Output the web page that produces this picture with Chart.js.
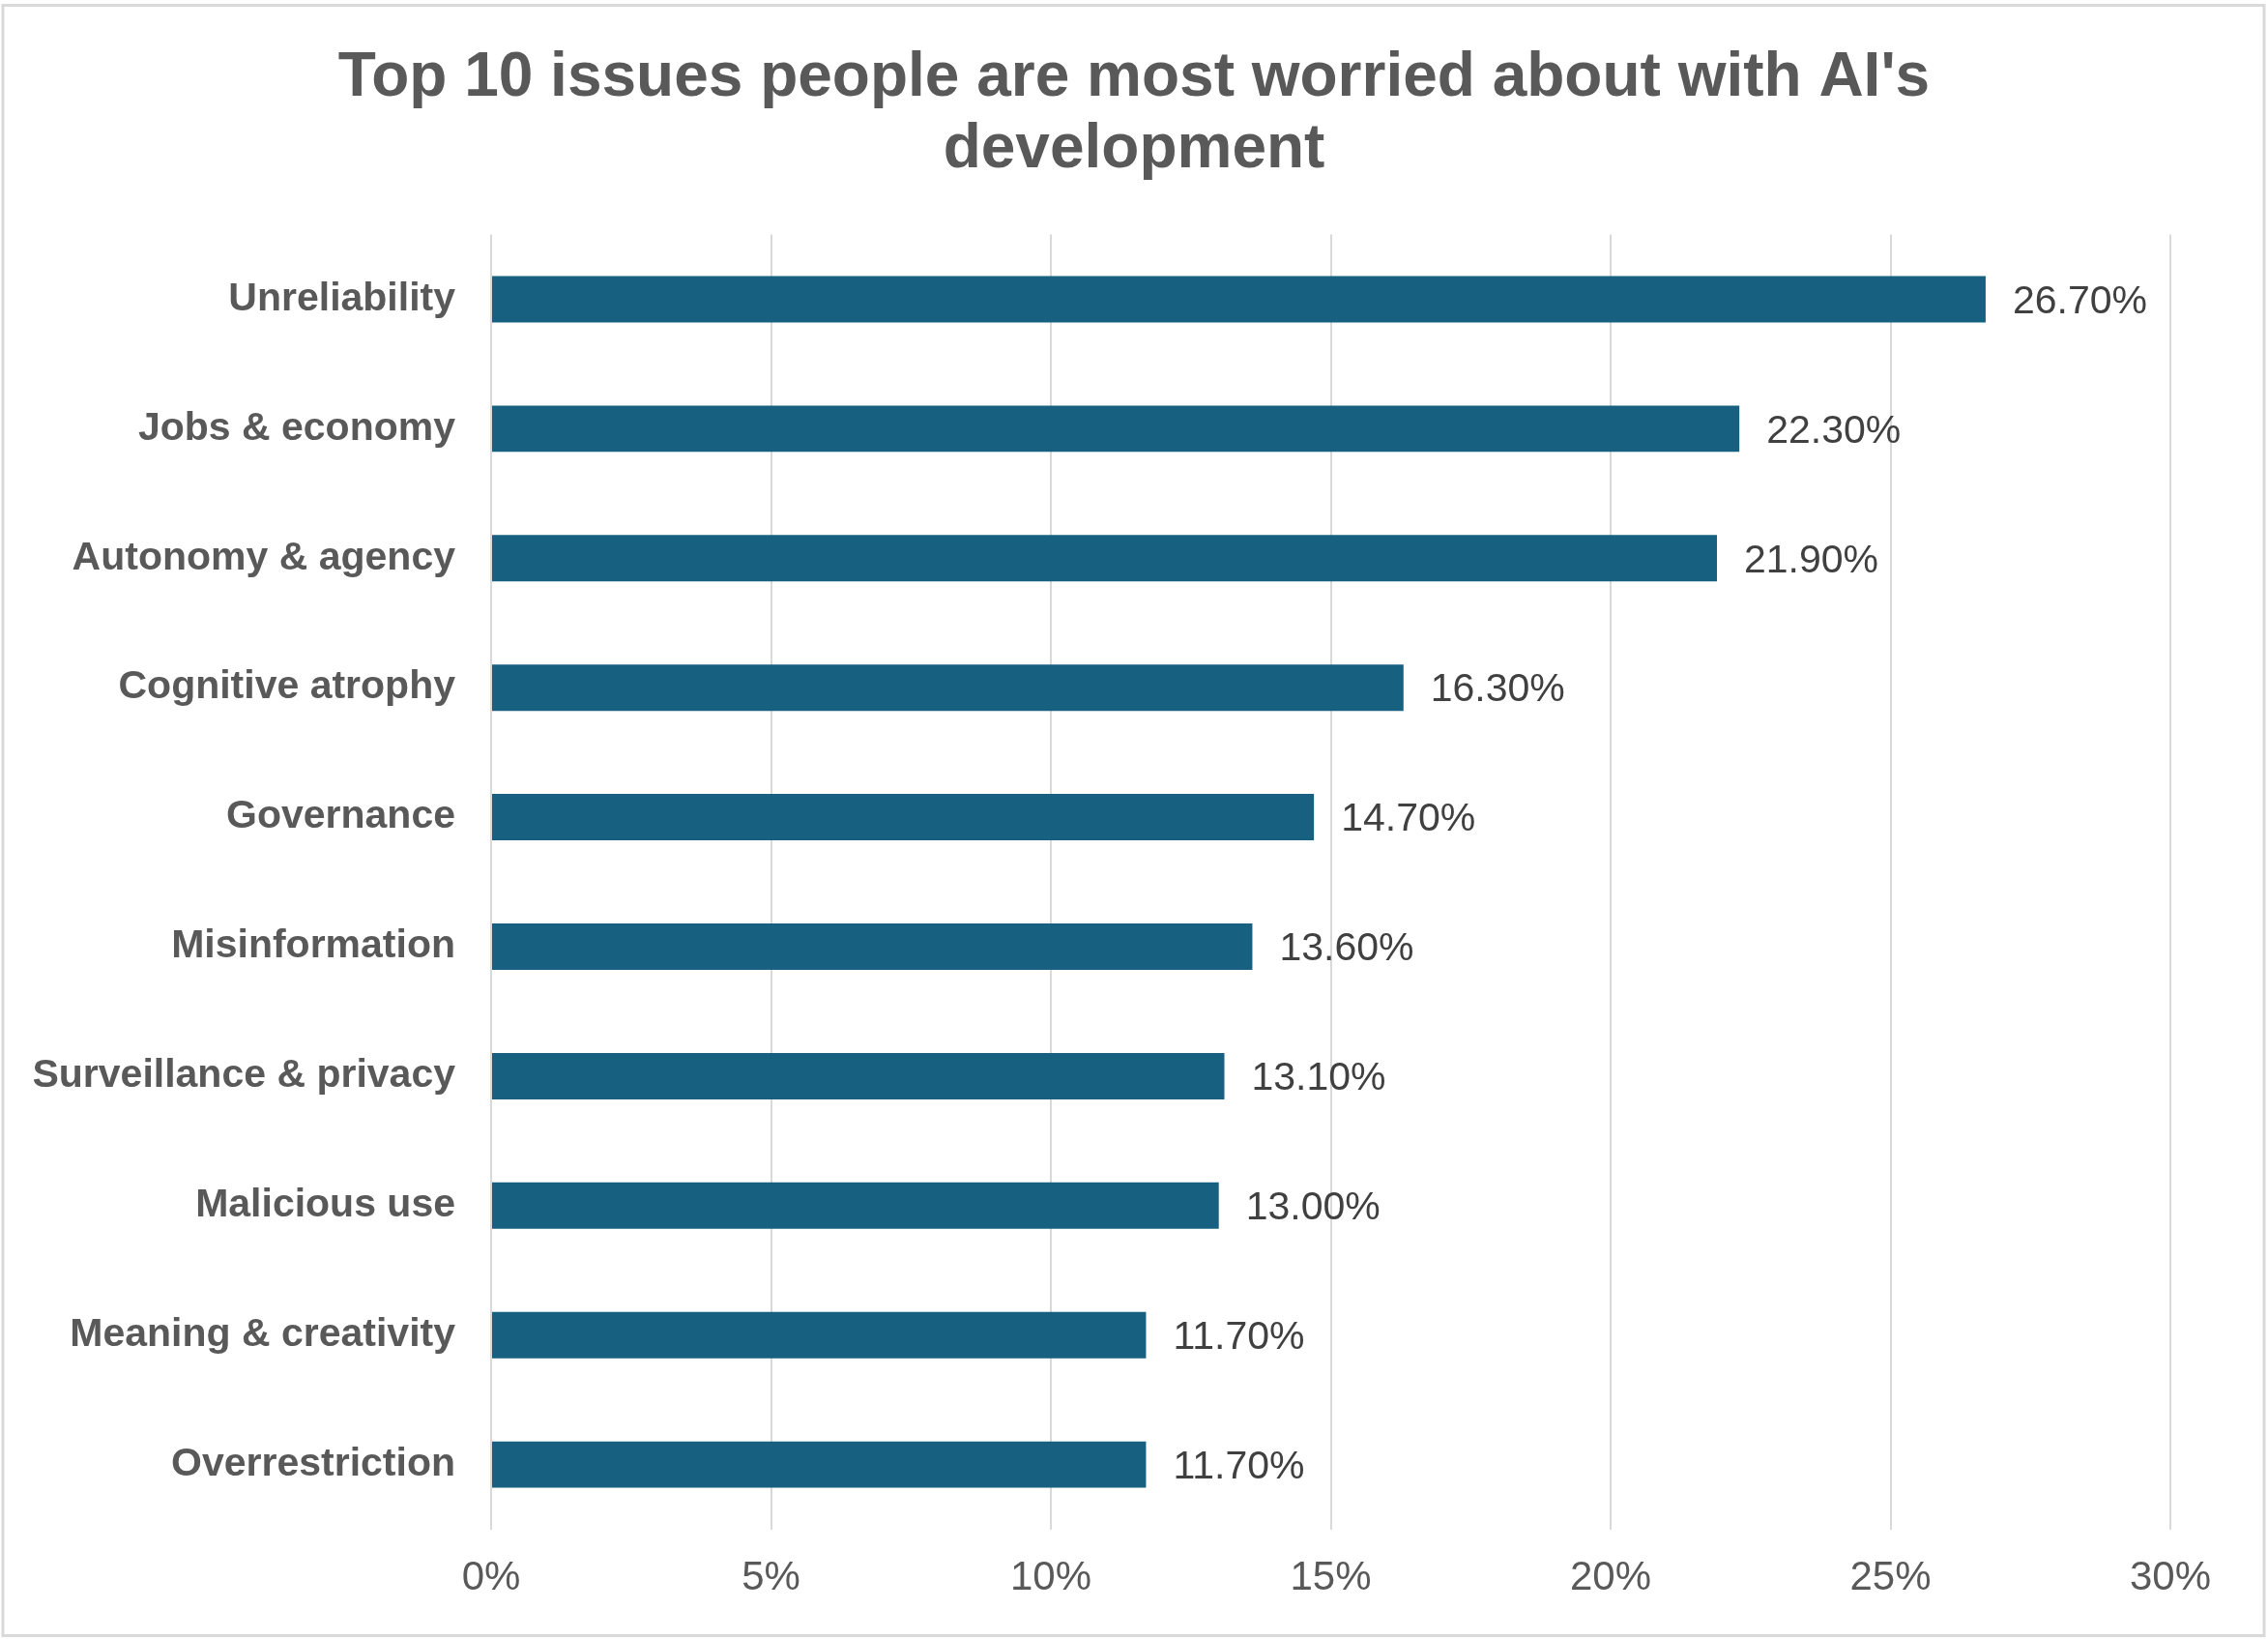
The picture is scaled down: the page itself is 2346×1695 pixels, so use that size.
<!DOCTYPE html>
<html>
<head>
<meta charset="utf-8">
<script src="https://cdn.jsdelivr.net/npm/chart.js@4.4.1/dist/chart.umd.min.js"></script>
<style>
  html, body { margin: 0; padding: 0; background: #fff; }
  #wrap { width: 2346px; height: 1695px; position: relative; }
</style>
</head>
<body>
<div id="wrap"><canvas id="chart" width="2346" height="1695"></canvas></div>
<script>
const TITLE_LINES = ["Top 10 issues people are most worried about with AI's", 'development'];
const categories = [
    'Unreliability',
    'Jobs & economy',
    'Autonomy & agency',
    'Cognitive atrophy',
    'Governance',
    'Misinformation',
    'Surveillance & privacy',
    'Malicious use',
    'Meaning & creativity',
    'Overrestriction'
];
const shares = [26.7, 22.3, 21.9, 16.3, 14.7, 13.6, 13.1, 13.0, 11.7, 11.7];
const tickValues = [0, 5, 10, 15, 20, 25, 30];

const FONT = "'Liberation Sans', Arial, sans-serif";
const BAR_COLOR = '#17607f';
const TEXT_GRAY = '#595959';

// fundo branco + moldura cinza em volta do gráfico
const framePlugin = {
    id: 'frame',
    afterLayout(chart) {
        // centraliza o título na largura toda do canvas, não só na área com padding
        const t = chart.titleBlock;
        if (t) {
            t.left = 0;
            t.right = chart.width;
            t.width = chart.width;
        }
    },
    beforeDraw(chart) {
        const ctx = chart.ctx;
        ctx.save();
        ctx.fillStyle = '#fff';
        ctx.fillRect(0, 0, chart.width, chart.height);
        ctx.strokeStyle = '#d9d9d9';
        ctx.lineWidth = 3;
        ctx.strokeRect(3, 5.5, chart.width - 7, chart.height - 9);
        ctx.restore();
    }
};

// rótulos de valor à direita de cada barra
const valueLabels = {
    id: 'valueLabels',
    afterDatasetsDraw(chart) {
        const ctx = chart.ctx;
        const meta = chart.getDatasetMeta(0);
        ctx.save();
        ctx.font = `41px ${FONT}`;
        ctx.fillStyle = '#404040';
        ctx.textAlign = 'left';
        ctx.textBaseline = 'middle';
        meta.data.forEach((bar, i) => {
            const v = chart.data.datasets[0].data[i];
            ctx.fillText(v.toFixed(2) + '%', bar.x + 28, bar.y + 3);
        });
        ctx.restore();
    }
};

new Chart(document.getElementById('chart'), {
    type: 'bar',
    data: {
        labels: categories,
        datasets: [{
            data: shares,
            backgroundColor: BAR_COLOR,
            borderWidth: 0,
            categoryPercentage: 1,
            barPercentage: 0.358
        }]
    },
    options: {
        indexAxis: 'y',
        responsive: false,
        animation: false,
        devicePixelRatio: 1,
        layout: { padding: { left: 10, right: 101, top: 30, bottom: 11 } },
        scales: {
            x: {
                min: 0,
                max: 30,
                afterBuildTicks: (scale) => { scale.ticks = tickValues.map(v => ({ value: v })); },
                grid: { color: '#d9d9d9', lineWidth: 2, drawTicks: false },
                border: { display: false },
                ticks: {
                    padding: 26,
                    color: TEXT_GRAY,
                    font: { family: FONT, size: 42 },
                    callback: (v) => v + '%'
                }
            },
            y: {
                grid: { display: false },
                border: { display: false },
                afterFit: (scale) => { scale.width = 498; },
                ticks: {
                    padding: 29,
                    color: TEXT_GRAY,
                    font: { family: FONT, size: 41, weight: 'bold' }
                }
            }
        },
        plugins: {
            legend: { display: false },
            tooltip: { enabled: false },
            title: {
                display: true,
                text: TITLE_LINES,
                color: TEXT_GRAY,
                font: { family: FONT, size: 64, weight: 'bold', lineHeight: 1.16 },
                padding: { top: 14, bottom: 50 }
            }
        }
    },
    plugins: [framePlugin, valueLabels]
});
</script>
</body>
</html>
